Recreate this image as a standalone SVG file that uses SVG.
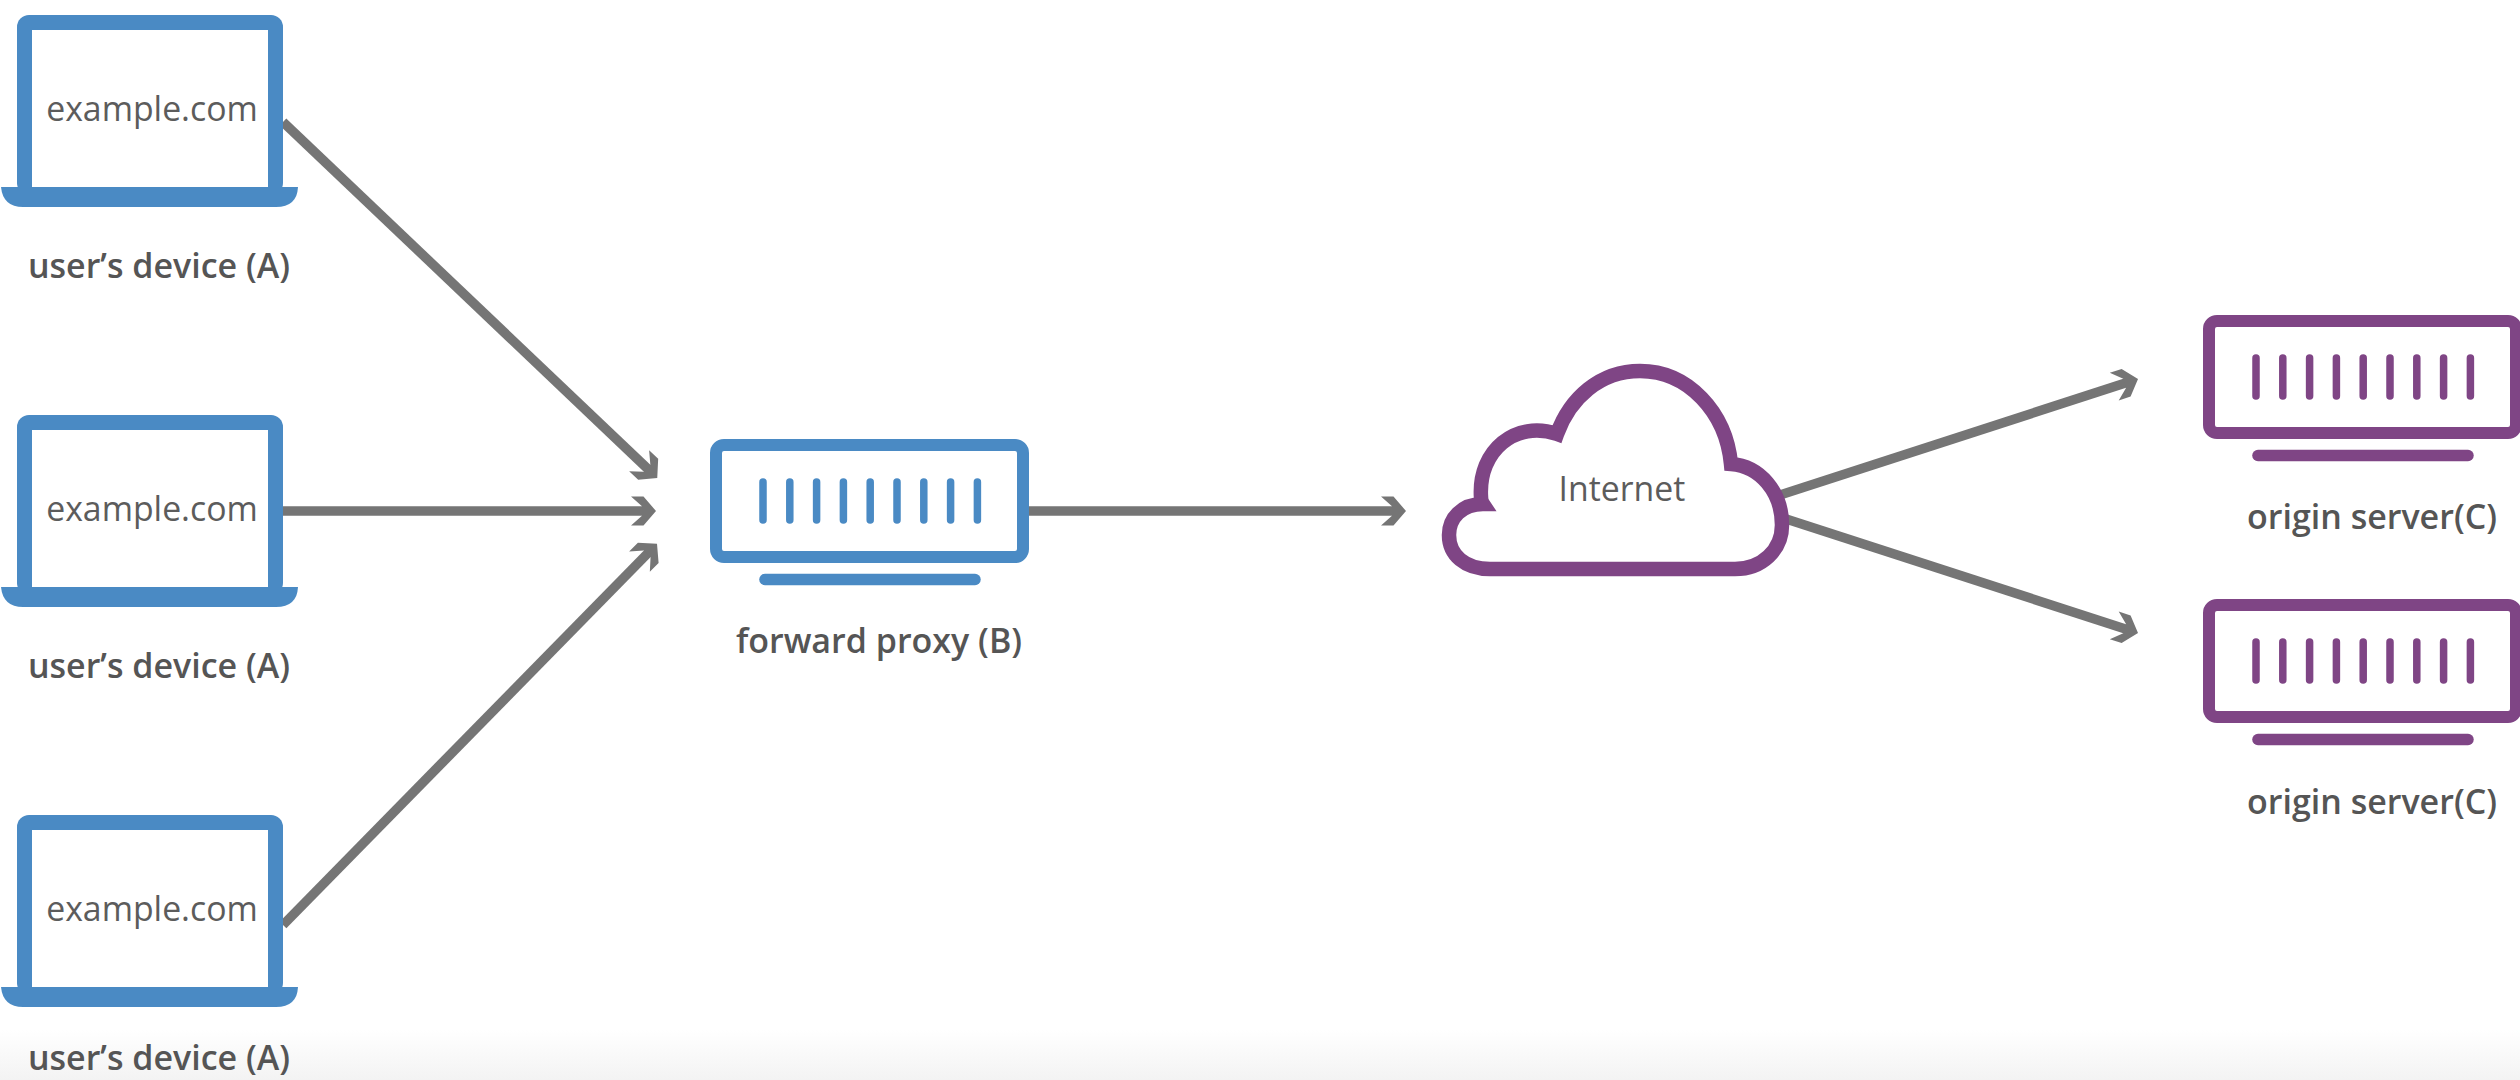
<svg xmlns="http://www.w3.org/2000/svg" width="2520" height="1080" viewBox="0 0 2520 1080">
<style>
.lbl{font-family:"Open Sans","Liberation Sans",sans-serif;font-weight:600;font-size:34px;fill:#555;text-anchor:middle}
.in{font-family:"Open Sans","Liberation Sans",sans-serif;font-weight:400;font-size:33.8px;fill:#5c5c5c;text-anchor:middle}
.conn{stroke:#757575;stroke-width:9.5;fill:none;marker-end:url(#head)}
.blue{color:#4a8ac4}
.purple{color:#7f4585}
</style>
<defs>
<linearGradient id="fade" x1="0" y1="0" x2="0" y2="1"><stop offset="0" stop-color="#fff"/><stop offset="1" stop-color="#f3f3f3"/></linearGradient>
<marker id="head" markerUnits="userSpaceOnUse" viewBox="-30 -16 32 32" markerWidth="32" markerHeight="32" refX="-10" refY="0" orient="auto" overflow="visible">
<path d="M0 0L-12.5 -14.5H-25L-14 -4.7V4.7L-25 14.5H-12.5Z" fill="#757575"/>
</marker>
<g id="laptop">
<rect x="17" y="15" width="266" height="180" rx="12" fill="#4a8ac4"/>
<rect x="32" y="30" width="236" height="157" fill="#fff"/>
<path d="M1 187H298Q297 207 276 207H23Q3 207 1 187Z" fill="#4a8ac4"/>
</g>
<g id="rack" fill="none" stroke="currentColor">
<rect x="6" y="6" width="307" height="112" rx="8" stroke-width="12"/>
<g stroke-width="7.5" stroke-linecap="round">
<path d="M53 43V81M79.8 43V81M106.6 43V81M133.4 43V81M160.2 43V81M187 43V81M213.8 43V81M240.6 43V81M267.4 43V81"/>
<path d="M55 140.5H265" stroke-width="11.5"/>
</g>
</g>
</defs>
<rect width="2520" height="1080" fill="#fff"/>
<rect y="1030" width="2520" height="50" fill="url(#fade)"/>
<g id="connectors">
<path class="conn" d="M283 122L650 471"/>
<path class="conn" d="M283 511H646"/>
<path class="conn" d="M283 925L650 551"/>
<path class="conn" d="M1029 511H1396"/>
<path class="conn" d="M1780 495L2128.5 382"/>
<path class="conn" d="M1780 517L2128.5 630"/>
</g>
<g id="device-a1"><use href="#laptop"/><text class="in" x="152" y="121">example.com</text><text class="lbl" x="159" y="278">user’s device (A)</text></g>
<g id="device-a2" transform="translate(0,400)"><use href="#laptop"/><text class="in" x="152" y="121">example.com</text><text class="lbl" x="159" y="278">user’s device (A)</text></g>
<g id="device-a3" transform="translate(0,800)"><use href="#laptop"/><text class="in" x="152" y="121">example.com</text><text class="lbl" x="159" y="270">user’s device (A)</text></g>
<g id="proxy-b" class="blue"><use href="#rack" x="710" y="439"/><text class="lbl" x="879" y="653">forward proxy (B)</text></g>
<g id="internet">
<path d="M1490 569H1735C1762 569 1782 550 1782 525C1782 492 1760 466 1731 464C1726 412 1688 371 1640 371C1600 371 1570 398 1557 434C1516 420 1478 450 1481 497Q1481 501 1483 504C1462 504 1449 518 1449 535C1449 555 1465 569 1490 569Z" fill="#fff" stroke="#7f4585" stroke-width="14.5"/>
<text class="in" x="1622" y="501">Internet</text>
</g>
<g id="origin-c1" class="purple"><use href="#rack" x="2203" y="315"/><text class="lbl" x="2372" y="529">origin server(C)</text></g>
<g id="origin-c2" class="purple"><use href="#rack" x="2203" y="599"/><text class="lbl" x="2372" y="814">origin server(C)</text></g>
</svg>
